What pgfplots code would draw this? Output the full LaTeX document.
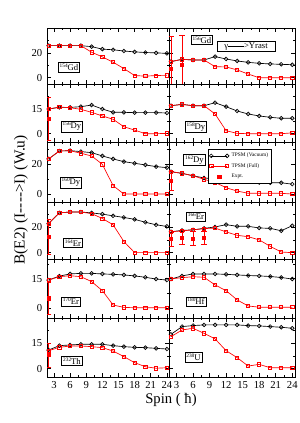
\documentclass[border=0pt]{standalone}
\usepackage{fontspec}
\setmainfont{Liberation Serif}
\usepackage{pgfplots}
\pgfplotsset{compat=1.18}
\newcommand\nuc[2]{\raisebox{2.2pt}{\fontsize{4}{4}\selectfont #1}#2}
\pgfplotsset{
  legline/.style={legend image code/.code={\draw[mark repeat=1,mark phase=1,##1] plot coordinates {(0cm,0cm) (0.42cm,0cm)};}},
  legmark/.style={legend image code/.code={\draw[only marks,mark repeat=2,mark phase=2,##1] plot coordinates {(0cm,0cm) (0.21cm,0cm) (0.42cm,0cm)};}},
  panel/.style={scale only axis, axis line style={line width=0.6pt}, tick align=inside,
    xtick={3,6,...,24}, minor x tick num=1,
    major tick length=3pt, minor tick length=1.6pt,
    every tick/.style={black, line width=0.5pt},
    ticklabel style={font=\fontsize{8}{9}\selectfont},
    /pgf/number format/assume math mode=true,
    anchor=north west, clip=true},
  L/.style={panel, xmin=1.7, xmax=24.4, width=91.5pt},
  R/.style={panel, xmin=1.64, xmax=24.5, width=94.5pt, yticklabels={}},
  nox/.style={xticklabels={}},
  r1/.style={height=42pt, ymin=-5, ymax=40, ytick={0,20}, minor ytick={10,30}},
  r2/.style={height=43.5pt, ymin=-5, ymax=30, ytick={0,15}, minor ytick={7.5,22.5}},
  r3/.style={height=45pt, ymin=-5, ymax=35, ytick={0,20}, minor ytick={10,30}},
  r4/.style={height=42.75pt, ymin=-5, ymax=40, ytick={0,20}, minor ytick={10,30}},
  r5/.style={height=44.25pt, ymin=-5, ymax=25, ytick={0,15}, minor ytick={7.5,22.5}},
  r6/.style={height=44.25pt, ymin=-5, ymax=30, ytick={0,15}, minor ytick={7.5,22.5}},
  blk/.style={black, line width=0.5pt, mark=o, mark size=1.4pt, mark options={solid}},
  rd/.style={red, line width=0.5pt, mark=square, mark size=1.2pt, mark options={solid}},
  ex/.style={red, only marks, mark=square*, mark size=1.2pt,
    error bars/y dir=both, error bars/y explicit,
    error bars/error bar style={red, line width=0.5pt},
    error bars/error mark options={red, rotate=90, mark size=2pt, line width=0.5pt}},
}
\begin{document}
\begin{tikzpicture}
\useasboundingbox (0,0) rectangle (224.25pt,317.25pt);
\tikzset{lab/.style={draw, line width=0.6pt, inner sep=1pt, font=\fontsize{6.5}{7}\selectfont, fill=white}}

% Row 1
\begin{axis}[L, nox, r1, at={(35.25pt,296.25pt)}]
\addplot[blk] coordinates {(2,25.8) (4,25.8) (6,25.8) (8,25.8) (10,25) (12,23) (14,22.5) (16,21.5) (18,20.8) (20,20.3) (22,20) (24,19.6)};
\addplot[rd] coordinates {(2,25.8) (4,25.8) (6,25.8) (8,25.8) (10,20.5) (12,16.8) (14,12.5) (16,7.4) (18,1.8) (20,1.3) (22,1.8) (24,2)};
\end{axis}
\begin{axis}[R, nox, r1, at={(126.75pt,296.25pt)}]
\addplot[blk] coordinates {(2,13) (4,14.8) (6,14.3) (8,14.3) (10,17) (12,15.1) (14,13.5) (16,12.4) (18,11.6) (20,11.1) (22,10.8) (24,10.5)};
\addplot[rd] coordinates {(2,13) (4,14.8) (6,14.3) (8,14.3) (10,8.9) (12,8.7) (14,6.3) (16,3) (18,0) (20,0) (22,0) (24,0)};
\addplot[ex] coordinates {(2,7) +- (0,26) (4,10.3) +- (0,24)};
\end{axis}
% Row 2
\begin{axis}[L, nox, r2, at={(35.25pt,254.25pt)}]
\addplot[blk] coordinates {(2,14.9) (4,15.9) (6,15.9) (8,16.3) (10,17.3) (12,14.9) (14,12.9) (16,12.9) (18,12.7) (20,12.7) (22,12.7) (24,12.5)};
\addplot[rd] coordinates {(2,14.9) (4,16.1) (6,15.7) (8,14.7) (10,12.9) (12,10.7) (14,8.7) (16,4.2) (18,2.2) (20,0) (22,0) (24,0.2)};
\addplot[ex] coordinates {(2,9) +- (0,13)};
\end{axis}
\begin{axis}[R, nox, r2, at={(126.75pt,254.25pt)}]
\addplot[blk] coordinates {(2,16.9) (4,17.7) (6,16.9) (8,16.9) (10,18.7) (12,16.3) (14,13.7) (16,11.9) (18,10.7) (20,9.9) (22,9.3) (24,9.3)};
\addplot[rd] coordinates {(2,16.9) (4,17.7) (6,16.9) (8,16.9) (10,11.9) (12,1.8) (14,0.2) (16,0) (18,0) (20,0) (22,0) (24,0.5)};
\end{axis}
% Row 3
\begin{axis}[L, nox, r3, at={(35.25pt,210.75pt)}]
\addplot[blk] coordinates {(2,23.7) (4,29) (6,29.2) (8,28.6) (10,27.9) (12,25.7) (14,23.7) (16,21.9) (18,20.8) (20,19.7) (22,18.6) (24,17.9)};
\addplot[rd] coordinates {(2,23.7) (4,29) (6,29.2) (8,27.5) (10,25.7) (12,20.1) (14,5.9) (16,0.3) (18,0.3) (20,0.3) (22,0.3) (24,0.3)};
\end{axis}
\begin{axis}[R, nox, r3, at={(126.75pt,210.75pt)},
  legend style={at={(0.31,0.883)}, anchor=north west, draw=black, font=\fontsize{4}{4.5}\selectfont, inner sep=0.8pt, row sep=-0.5pt, fill=white},
  legend cell align=left]
\addplot[blk, legline] coordinates {(2,15.2) (4,14.1) (6,12.5) (8,11) (10,10.5) (12,10.3) (14,9.7) (16,9) (18,8) (20,7.8) (22,7.8) (24,6.9)};
\addlegendentry{TPSM (Vacuum)}
\addplot[rd, legline] coordinates {(2,15.2) (4,14.1) (6,12.5) (8,10.1) (10,8.1) (12,4.5) (14,2.3) (16,0.8) (18,0.8) (20,0.8) (22,0.8) (24,0.3)};
\addlegendentry{TPSM (Full)}
\addplot[ex, legmark] coordinates {(2,9) +- (0,6.5)};
\addlegendentry{Expt.}
\end{axis}
% Row 4
\begin{axis}[L, nox, r4, at={(35.25pt,165.75pt)}]
\addplot[blk] coordinates {(2,23) (4,31.4) (6,32.1) (8,32.1) (10,31.4) (12,30.4) (14,29.1) (16,27.8) (18,26.3) (20,24) (22,22) (24,20.7)};
\addplot[rd] coordinates {(2,23) (4,31.4) (6,32.1) (8,32.1) (10,30.8) (12,27) (14,22) (16,8.8) (18,0) (20,0) (22,0) (24,0)};
\addplot[ex] coordinates {(2,12.6) +- (0,14)};
\end{axis}
\begin{axis}[R, nox, r4, at={(126.75pt,165.75pt)}]
\addplot[blk] coordinates {(2,16.5) (4,17.6) (6,18) (8,19.2) (10,20.3) (12,22.1) (14,20.8) (16,20.8) (18,19.5) (20,19.2) (22,17.3) (24,21.3)};
\addplot[rd] coordinates {(2,16.5) (4,17.2) (6,18) (8,19) (10,19.4) (12,16.4) (14,13.7) (16,12.6) (18,10.1) (20,5) (22,0.5) (24,0)};
\addplot[ex] coordinates {(2,10.8) +- (0,5.5) (4,11.5) +- (0,5.3) (6,11.2) +- (0,5.5) (8,11.8) +- (0,5.3)};
\end{axis}
% Row 5
\begin{axis}[L, nox, r5, at={(35.25pt,123pt)}]
\addplot[blk] coordinates {(2,14.3) (4,16.3) (6,17.4) (8,17.7) (10,17.7) (12,17.4) (14,17.2) (16,16.9) (18,16.4) (20,15.7) (22,14.8) (24,14.3)};
\addplot[rd] coordinates {(2,14.3) (4,16) (6,16.5) (8,16) (10,13.5) (12,8.9) (14,1.6) (16,0.4) (18,0.2) (20,0.2) (22,0.2) (24,0.2)};
\addplot[ex] coordinates {(2,5) +- (0,8)};
\end{axis}
\begin{axis}[R, nox, r5, at={(126.75pt,123pt)}]
\addplot[blk] coordinates {(2,14.8) (4,16.4) (6,17.4) (8,17.4) (10,17.4) (12,17.2) (14,16.9) (16,16.6) (18,16.4) (20,16.1) (22,15.6) (24,14.8)};
\addplot[rd] coordinates {(2,14.9) (4,15.5) (6,16) (8,15.7) (10,11.8) (12,8.9) (14,4.2) (16,1.1) (18,0.5) (20,0.5) (22,0.5) (24,0.5)};
\end{axis}
% Row 6
\begin{axis}[L, r6, at={(35.25pt,78.75pt)}]
\addplot[blk] coordinates {(2,11) (4,13.6) (6,14) (8,14.4) (10,14.4) (12,14.4) (14,13.6) (16,13) (18,12.6) (20,12.4) (22,12) (24,11.6)};
\addplot[rd] coordinates {(2,10.6) (4,12.6) (6,13.4) (8,13.4) (10,13) (12,12.4) (14,10.4) (16,7.1) (18,3.5) (20,1.1) (22,0.2) (24,0.5)};
\addplot[ex] coordinates {(2,8) +- (0,7)};
\end{axis}
\begin{axis}[R, r6, at={(126.75pt,78.75pt)}]
\addplot[blk] coordinates {(2,20.3) (4,24.9) (6,25.5) (8,25.9) (10,25.9) (12,25.9) (14,25.9) (16,25.5) (18,25.3) (20,24.9) (22,24.5) (24,23.9)};
\addplot[rd] coordinates {(2,18.9) (4,22.9) (6,23.9) (8,20.9) (10,17.6) (12,10.6) (14,6.5) (16,1.5) (18,2.5) (20,0.5) (22,0.5) (24,0.5)};
\end{axis}

% labels
\node[lab] at ({69*0.75pt},{(423-67.5)*0.75pt}) {\nuc{154}{Gd}};
\node[lab] at ({202*0.75pt},{(423-40)*0.75pt}) {\nuc{156}{Gd}};
\node[lab] at ({72*0.75pt},{(423-126.5)*0.75pt}) {\nuc{156}{Dy}};
\node[lab] at ({196*0.75pt},{(423-127)*0.75pt}) {\nuc{158}{Dy}};
\node[lab] at ({71*0.75pt},{(423-182.5)*0.75pt}) {\nuc{160}{Dy}};
\node[lab] at ({194.5*0.75pt},{(423-160)*0.75pt}) {\nuc{162}{Dy}};
\node[lab] at ({73*0.75pt},{(423-243)*0.75pt}) {\nuc{164}{Er}};
\node[lab] at ({196*0.75pt},{(423-216.5)*0.75pt}) {\nuc{166}{Er}};
\node[lab] at ({71*0.75pt},{(423-301.5)*0.75pt}) {\nuc{170}{Er}};
\node[lab] at ({196*0.75pt},{(423-301.5)*0.75pt}) {\nuc{180}{Hf}};
\node[lab] at ({72*0.75pt},{(423-361)*0.75pt}) {\nuc{232}{Th}};
\node[lab] at ({193.5*0.75pt},{(423-357.5)*0.75pt}) {\nuc{238}{U}};
\node[draw, line width=0.6pt, fill=white, inner sep=1pt, minimum width=43.5pt, minimum height=8pt, font=\fontsize{6.5}{7}\selectfont] at ({246*0.75pt},{(423-46.5)*0.75pt}) {γ\rule[0.25em]{12pt}{0.4pt}>Yrast};
\node[rotate=90, font=\fontsize{11.5}{13}\selectfont] at ({21*0.75pt},{(423-200)*0.75pt}) {B(E2) (I{-}{-}{-}{-}>I) (W.u)};
\node[font=\fontsize{11}{12}\selectfont] at ({171*0.75pt},{(423-400)*0.75pt}) {Spin ( ħ)};
\end{tikzpicture}
\end{document}
